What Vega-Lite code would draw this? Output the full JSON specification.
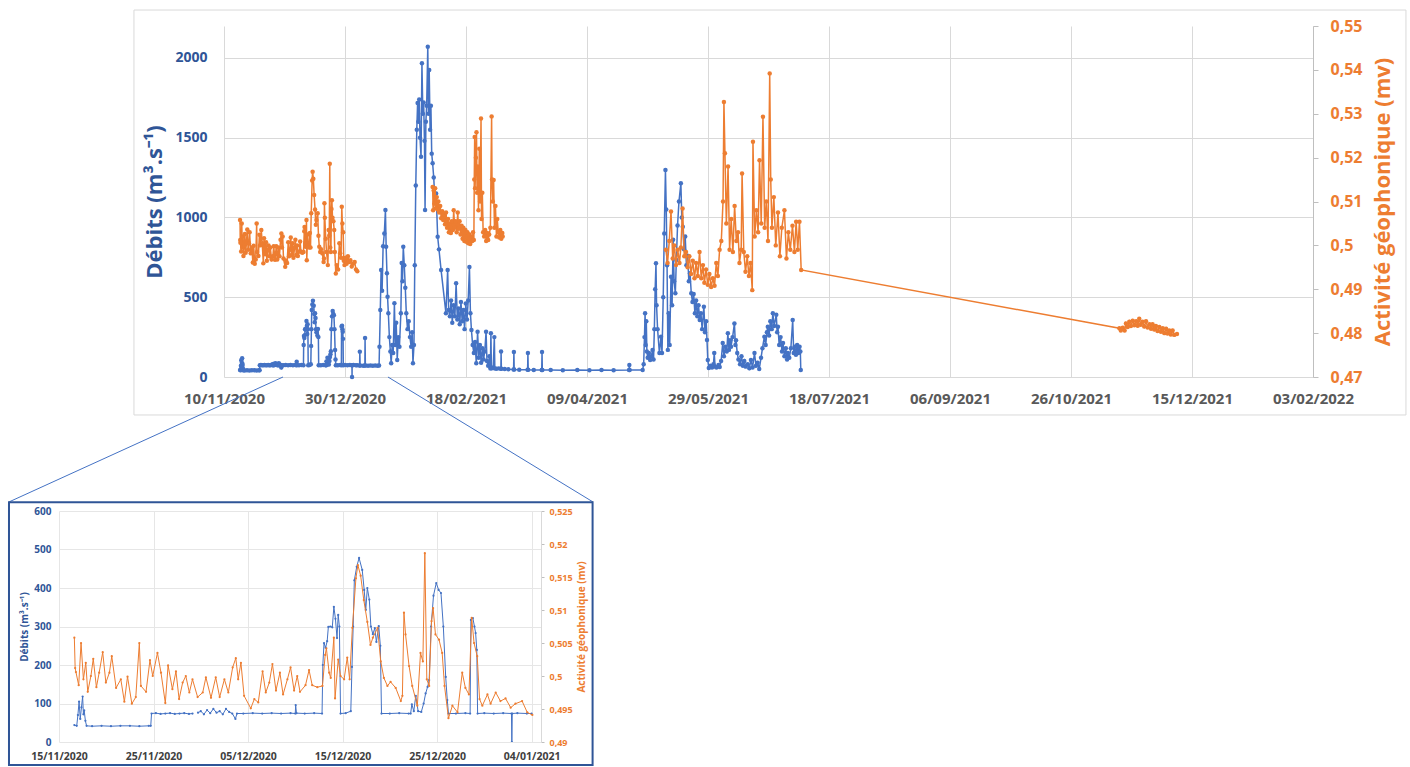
{
  "$schema": "https://vega.github.io/schema/vega-lite/v6.json",
  "background": "white",
  "padding": {"left": 7, "top": 9, "right": 5, "bottom": 0},
  "spacing": 485,
  "bounds": "flush",
  "config": {
    "view": {"stroke": null},
    "axis": {"labelFont": "Open Sans", "titleFont": "Open Sans"},
    "locale": {"number": {"decimal": ",", "thousands": "\u00a0", "grouping": [3], "currency": ["", " €"]}}
  },
  "datasets": {
    "flow": [
      {"t":"2020-11-16T15:00","q":44,"s":1},{"t":"2020-11-16T21:00","q":42,"s":1},{"t":"2020-11-17T00:00","q":70,"s":1},{"t":"2020-11-17T03:00","q":105,"s":1},{"t":"2020-11-17T06:00","q":60,"s":1},{"t":"2020-11-17T09:00","q":90,"s":1},{"t":"2020-11-17T12:00","q":118,"s":1},{"t":"2020-11-17T14:00","q":72,"s":1},{"t":"2020-11-17T16:00","q":82,"s":1},{"t":"2020-11-17T19:00","q":55,"s":1},{"t":"2020-11-17T22:00","q":42,"s":1},
      {"t":"2020-11-18T12:00","q":41,"s":1},{"t":"2020-11-19T12:00","q":42,"s":1},{"t":"2020-11-20T12:00","q":41,"s":1},{"t":"2020-11-21T12:00","q":42,"s":1},{"t":"2020-11-22T12:00","q":42,"s":1},{"t":"2020-11-23T12:00","q":41,"s":1},{"t":"2020-11-24T12:00","q":42,"s":1},{"t":"2020-11-24T17:00","q":42,"s":1},{"t":"2020-11-24T19:00","q":74,"s":1},{"t":"2020-11-25T06:00","q":75,"s":1},{"t":"2020-11-25T18:00","q":73,"s":1},{"t":"2020-11-26T06:00","q":74,"s":1},{"t":"2020-11-26T18:00","q":75,"s":1},{"t":"2020-11-27T06:00","q":73,"s":1},{"t":"2020-11-27T18:00","q":74,"s":1},{"t":"2020-11-28T06:00","q":75,"s":1},{"t":"2020-11-28T18:00","q":73,"s":1},{"t":"2020-11-29T03:00","q":74,"s":1},
      {"t":"2020-11-29T17:00","q":76,"s":2},{"t":"2020-11-30T00:00","q":80,"s":2},{"t":"2020-11-30T08:00","q":72,"s":2},{"t":"2020-11-30T16:00","q":83,"s":2},{"t":"2020-12-01T00:00","q":75,"s":2},{"t":"2020-12-01T08:00","q":86,"s":2},{"t":"2020-12-01T16:00","q":76,"s":2},{"t":"2020-12-02T00:00","q":80,"s":2},{"t":"2020-12-02T08:00","q":72,"s":2},{"t":"2020-12-02T16:00","q":86,"s":2},{"t":"2020-12-03T00:00","q":78,"s":2},{"t":"2020-12-03T08:00","q":74,"s":2},{"t":"2020-12-03T16:00","q":60,"s":2},{"t":"2020-12-03T20:00","q":74,"s":2},
      {"t":"2020-12-04T12:00","q":74,"s":2},{"t":"2020-12-05T12:00","q":75,"s":2},{"t":"2020-12-06T12:00","q":74,"s":2},{"t":"2020-12-07T12:00","q":75,"s":2},{"t":"2020-12-08T12:00","q":74,"s":2},{"t":"2020-12-09T12:00","q":75,"s":2},{"t":"2020-12-10T00:00","q":74,"s":2},{"t":"2020-12-10T01:00","q":96,"s":2},{"t":"2020-12-10T03:00","q":75,"s":2},{"t":"2020-12-11T00:00","q":74,"s":2},{"t":"2020-12-12T00:00","q":75,"s":2},{"t":"2020-12-12T20:00","q":74,"s":2},
      {"t":"2020-12-12T22:00","q":200,"s":2},{"t":"2020-12-13T01:00","q":257,"s":2},{"t":"2020-12-13T05:00","q":245,"s":2},{"t":"2020-12-13T09:00","q":262,"s":2},{"t":"2020-12-13T12:00","q":299,"s":2},{"t":"2020-12-13T17:00","q":300,"s":2},{"t":"2020-12-13T22:00","q":298,"s":2},{"t":"2020-12-14T02:00","q":351,"s":2},{"t":"2020-12-14T06:00","q":320,"s":2},{"t":"2020-12-14T10:00","q":270,"s":2},{"t":"2020-12-14T13:00","q":330,"s":2},{"t":"2020-12-14T16:00","q":300,"s":2},{"t":"2020-12-14T19:00","q":74,"s":2},{"t":"2020-12-15T08:00","q":75,"s":2},{"t":"2020-12-15T21:00","q":80,"s":2},
      {"t":"2020-12-16T00:00","q":195,"s":2},{"t":"2020-12-16T03:00","q":300,"s":2},{"t":"2020-12-16T06:00","q":420,"s":2},{"t":"2020-12-16T12:00","q":455,"s":2},{"t":"2020-12-16T18:00","q":478,"s":2},{"t":"2020-12-17T02:00","q":447,"s":2},{"t":"2020-12-17T07:00","q":395,"s":2},{"t":"2020-12-17T11:00","q":343,"s":2},{"t":"2020-12-17T15:00","q":400,"s":2},{"t":"2020-12-17T20:00","q":370,"s":2},{"t":"2020-12-18T00:00","q":300,"s":2},{"t":"2020-12-18T05:00","q":280,"s":2},{"t":"2020-12-18T10:00","q":296,"s":2},{"t":"2020-12-18T14:00","q":260,"s":2},{"t":"2020-12-18T20:00","q":301,"s":2},{"t":"2020-12-19T00:00","q":250,"s":2},{"t":"2020-12-19T03:00","q":74,"s":2},
      {"t":"2020-12-20T00:00","q":74,"s":2},{"t":"2020-12-21T00:00","q":75,"s":2},{"t":"2020-12-22T00:00","q":74,"s":2},{"t":"2020-12-22T05:00","q":74,"s":2},{"t":"2020-12-22T08:00","q":98,"s":2},{"t":"2020-12-22T13:00","q":80,"s":2},{"t":"2020-12-22T18:00","q":120,"s":2},{"t":"2020-12-23T00:00","q":80,"s":2},{"t":"2020-12-23T08:00","q":78,"s":2},{"t":"2020-12-23T14:00","q":100,"s":2},{"t":"2020-12-23T19:00","q":126,"s":2},{"t":"2020-12-24T00:00","q":143,"s":2},{"t":"2020-12-24T04:00","q":161,"s":2},{"t":"2020-12-24T09:00","q":300,"s":2},{"t":"2020-12-24T15:00","q":380,"s":2},{"t":"2020-12-24T22:00","q":413,"s":2},{"t":"2020-12-25T04:00","q":395,"s":2},{"t":"2020-12-25T10:00","q":387,"s":2},{"t":"2020-12-25T16:00","q":300,"s":2},{"t":"2020-12-25T22:00","q":169,"s":2},{"t":"2020-12-26T02:00","q":109,"s":2},{"t":"2020-12-26T05:00","q":74,"s":2},
      {"t":"2020-12-27T00:00","q":74,"s":2},{"t":"2020-12-28T00:00","q":75,"s":2},{"t":"2020-12-28T12:00","q":74,"s":2},{"t":"2020-12-28T14:00","q":317,"s":2},{"t":"2020-12-28T19:00","q":322,"s":2},{"t":"2020-12-28T23:00","q":300,"s":2},{"t":"2020-12-29T02:00","q":283,"s":2},{"t":"2020-12-29T05:00","q":239,"s":2},{"t":"2020-12-29T07:00","q":74,"s":2},{"t":"2020-12-30T00:00","q":75,"s":2},{"t":"2020-12-31T00:00","q":74,"s":2},{"t":"2021-01-01T00:00","q":75,"s":2},{"t":"2021-01-01T21:00","q":74,"s":2},{"t":"2021-01-01T22:00","q":0,"s":2},{"t":"2021-01-01T23:00","q":74,"s":2},{"t":"2021-01-02T12:00","q":75,"s":2},{"t":"2021-01-03T12:00","q":74,"s":2},{"t":"2021-01-04T00:00","q":74,"s":2},
      {"t":"2021-01-05T01:00","q":72,"s":2},{"t":"2021-01-05T03:00","q":159,"s":2},{"t":"2021-01-05T06:00","q":72,"s":2},{"t":"2021-01-06T12:00","q":70,"s":2},{"t":"2021-01-07T05:00","q":72,"s":2},{"t":"2021-01-07T07:00","q":244,"s":2},{"t":"2021-01-07T10:00","q":72,"s":2},{"t":"2021-01-08T12:00","q":70,"s":2},{"t":"2021-01-09T12:00","q":72,"s":2},{"t":"2021-01-10T12:00","q":70,"s":2},{"t":"2021-01-11T12:00","q":72,"s":2},{"t":"2021-01-12T12:00","q":70,"s":2},{"t":"2021-01-13T02:00","q":72,"s":2},
      {"t":"2021-01-13T06:00","q":190,"s":2},{"t":"2021-01-13T14:00","q":420,"s":2},{"t":"2021-01-13T22:00","q":670,"s":2},{"t":"2021-01-14T08:00","q":540,"s":2},{"t":"2021-01-14T18:00","q":820,"s":2},{"t":"2021-01-15T06:00","q":900,"s":2},{"t":"2021-01-15T17:00","q":1047,"s":2},{"t":"2021-01-16T00:00","q":817,"s":2},{"t":"2021-01-16T08:00","q":650,"s":2},{"t":"2021-01-16T14:00","q":503,"s":2},{"t":"2021-01-16T22:00","q":400,"s":2},{"t":"2021-01-17T08:00","q":250,"s":2},{"t":"2021-01-17T18:00","q":160,"s":2},{"t":"2021-01-18T02:00","q":86,"s":2},{"t":"2021-01-18T12:00","q":200,"s":2},{"t":"2021-01-18T22:00","q":150,"s":2},{"t":"2021-01-19T10:00","q":463,"s":2},{"t":"2021-01-19T18:00","q":200,"s":2},{"t":"2021-01-20T04:00","q":340,"s":2},{"t":"2021-01-20T14:00","q":106,"s":2},{"t":"2021-01-21T00:00","q":250,"s":2},{"t":"2021-01-21T12:00","q":190,"s":2},
      {"t":"2021-01-22T02:00","q":400,"s":2},{"t":"2021-01-22T10:00","q":714,"s":2},{"t":"2021-01-22T18:00","q":600,"s":2},{"t":"2021-01-23T02:00","q":817,"s":2},{"t":"2021-01-23T12:00","q":700,"s":2},{"t":"2021-01-23T22:00","q":560,"s":2},{"t":"2021-01-24T08:00","q":400,"s":2},{"t":"2021-01-24T20:00","q":300,"s":2},{"t":"2021-01-25T08:00","q":350,"s":2},{"t":"2021-01-25T20:00","q":250,"s":2},{"t":"2021-01-26T08:00","q":190,"s":2},{"t":"2021-01-26T18:00","q":280,"s":2},{"t":"2021-01-27T02:00","q":86,"s":2},{"t":"2021-01-27T12:00","q":200,"s":2},{"t":"2021-01-27T20:00","q":700,"s":2},
      {"t":"2021-01-28T06:00","q":1200,"s":2},{"t":"2021-01-28T16:00","q":1550,"s":2},{"t":"2021-01-29T00:00","q":1717,"s":2},{"t":"2021-01-29T08:00","q":1600,"s":2},{"t":"2021-01-29T16:00","q":1740,"s":2},{"t":"2021-01-30T00:00","q":1500,"s":2},{"t":"2021-01-30T10:00","q":1380,"s":2},{"t":"2021-01-30T19:00","q":1966,"s":2},{"t":"2021-01-31T04:00","q":1650,"s":2},{"t":"2021-01-31T12:00","q":1720,"s":2},{"t":"2021-01-31T20:00","q":1480,"s":2},{"t":"2021-02-01T02:00","q":1047,"s":2},{"t":"2021-02-01T10:00","q":1600,"s":2},{"t":"2021-02-01T18:00","q":1700,"s":2},{"t":"2021-02-02T05:00","q":2070,"s":2},{"t":"2021-02-02T12:00","q":1650,"s":2},{"t":"2021-02-02T19:00","q":1924,"s":2},{"t":"2021-02-03T04:00","q":1550,"s":2},{"t":"2021-02-03T12:00","q":1700,"s":2},{"t":"2021-02-03T20:00","q":1400,"s":2},{"t":"2021-02-04T05:00","q":1340,"s":2},{"t":"2021-02-04T16:00","q":1250,"s":2},{"t":"2021-02-05T04:00","q":1100,"s":2},{"t":"2021-02-05T16:00","q":1150,"s":2},{"t":"2021-02-06T07:00","q":879,"s":2},{"t":"2021-02-06T20:00","q":800,"s":2},{"t":"2021-02-07T17:00","q":670,"s":2},
      {"t":"2021-02-09T17:00","q":400,"s":2},{"t":"2021-02-10T10:00","q":670,"s":2},{"t":"2021-02-10T20:00","q":420,"s":2},{"t":"2021-02-11T08:00","q":380,"s":2},{"t":"2021-02-11T20:00","q":480,"s":2},{"t":"2021-02-12T08:00","q":340,"s":2},{"t":"2021-02-12T20:00","q":450,"s":2},{"t":"2021-02-13T10:00","q":380,"s":2},{"t":"2021-02-13T22:00","q":588,"s":2},{"t":"2021-02-14T10:00","q":360,"s":2},{"t":"2021-02-14T22:00","q":430,"s":2},{"t":"2021-02-15T10:00","q":330,"s":2},{"t":"2021-02-15T22:00","q":470,"s":2},{"t":"2021-02-16T10:00","q":350,"s":2},{"t":"2021-02-16T22:00","q":420,"s":2},{"t":"2021-02-17T10:00","q":300,"s":2},{"t":"2021-02-17T22:00","q":460,"s":2},{"t":"2021-02-18T10:00","q":360,"s":2},{"t":"2021-02-18T22:00","q":480,"s":2},{"t":"2021-02-19T10:00","q":690,"s":2},{"t":"2021-02-19T20:00","q":400,"s":2},
      {"t":"2021-02-20T06:00","q":294,"s":2},{"t":"2021-02-20T18:00","q":200,"s":2},{"t":"2021-02-21T06:00","q":150,"s":2},{"t":"2021-02-21T18:00","q":220,"s":2},{"t":"2021-02-22T06:00","q":86,"s":2},{"t":"2021-02-22T19:00","q":284,"s":2},{"t":"2021-02-23T06:00","q":120,"s":2},{"t":"2021-02-23T18:00","q":200,"s":2},{"t":"2021-02-24T06:00","q":90,"s":2},{"t":"2021-02-24T18:00","q":180,"s":2},{"t":"2021-02-25T06:00","q":110,"s":2},{"t":"2021-02-25T18:00","q":160,"s":2},{"t":"2021-02-26T07:00","q":284,"s":2},{"t":"2021-02-26T16:00","q":100,"s":2},{"t":"2021-02-27T04:00","q":70,"s":2},{"t":"2021-02-27T16:00","q":130,"s":2},{"t":"2021-02-28T02:00","q":54,"s":2},{"t":"2021-02-28T07:00","q":275,"s":2},{"t":"2021-02-28T12:00","q":54,"s":2},{"t":"2021-03-01T06:00","q":60,"s":2},{"t":"2021-03-01T17:00","q":250,"s":2},{"t":"2021-03-01T22:00","q":54,"s":2},
      {"t":"2021-03-02T12:00","q":52,"s":2},{"t":"2021-03-03T12:00","q":54,"s":2},{"t":"2021-03-04T10:00","q":52,"s":2},{"t":"2021-03-04T12:00","q":160,"s":2},{"t":"2021-03-04T15:00","q":52,"s":2},{"t":"2021-03-06T00:00","q":50,"s":2},{"t":"2021-03-07T12:00","q":48,"s":2},{"t":"2021-03-09T16:00","q":47,"s":2},{"t":"2021-03-09T19:00","q":157,"s":2},{"t":"2021-03-09T22:00","q":47,"s":2},{"t":"2021-03-12T00:00","q":46,"s":2},{"t":"2021-03-15T11:00","q":45,"s":2},{"t":"2021-03-15T14:00","q":150,"s":2},{"t":"2021-03-15T17:00","q":45,"s":2},{"t":"2021-03-18T00:00","q":44,"s":2},{"t":"2021-03-21T07:00","q":44,"s":2},{"t":"2021-03-21T10:00","q":157,"s":2},{"t":"2021-03-21T13:00","q":44,"s":2},{"t":"2021-03-25T00:00","q":44,"s":2},{"t":"2021-03-30T00:00","q":43,"s":2},{"t":"2021-04-05T00:00","q":44,"s":2},{"t":"2021-04-10T00:00","q":43,"s":2},{"t":"2021-04-15T00:00","q":44,"s":2},{"t":"2021-04-20T00:00","q":43,"s":2},{"t":"2021-04-26T09:00","q":44,"s":2},{"t":"2021-04-26T12:00","q":75,"s":2},{"t":"2021-04-26T15:00","q":44,"s":2},{"t":"2021-05-02T00:00","q":44,"s":2},
      {"t":"2021-05-02T10:00","q":80,"s":2},{"t":"2021-05-02T18:00","q":250,"s":2},{"t":"2021-05-03T00:00","q":400,"s":2},{"t":"2021-05-03T06:00","q":200,"s":2},{"t":"2021-05-03T12:00","q":350,"s":2},{"t":"2021-05-03T18:00","q":160,"s":2},{"t":"2021-05-04T02:00","q":120,"s":2},{"t":"2021-05-04T14:00","q":150,"s":2},{"t":"2021-05-05T02:00","q":106,"s":2},{"t":"2021-05-05T14:00","q":130,"s":2},{"t":"2021-05-06T02:00","q":170,"s":2},{"t":"2021-05-06T12:00","q":110,"s":2},{"t":"2021-05-06T20:00","q":300,"s":2},{"t":"2021-05-07T04:00","q":550,"s":2},{"t":"2021-05-07T12:00","q":713,"s":2},{"t":"2021-05-07T18:00","q":450,"s":2},{"t":"2021-05-08T04:00","q":300,"s":2},{"t":"2021-05-08T22:00","q":150,"s":2},{"t":"2021-05-09T14:00","q":253,"s":2},{"t":"2021-05-10T00:00","q":150,"s":2},{"t":"2021-05-10T12:00","q":500,"s":2},{"t":"2021-05-10T22:00","q":900,"s":2},{"t":"2021-05-11T10:00","q":1297,"s":2},{"t":"2021-05-11T18:00","q":1050,"s":2},{"t":"2021-05-12T02:00","q":700,"s":2},{"t":"2021-05-12T10:00","q":170,"s":2},{"t":"2021-05-12T18:00","q":400,"s":2},{"t":"2021-05-13T04:00","q":200,"s":2},{"t":"2021-05-13T17:00","q":629,"s":2},{"t":"2021-05-14T04:00","q":450,"s":2},{"t":"2021-05-14T14:00","q":860,"s":2},{"t":"2021-05-15T00:00","q":600,"s":2},{"t":"2021-05-15T12:00","q":525,"s":2},{"t":"2021-05-15T22:00","q":733,"s":2},{"t":"2021-05-16T10:00","q":950,"s":2},{"t":"2021-05-17T00:00","q":1100,"s":2},{"t":"2021-05-17T19:00","q":1214,"s":2},{"t":"2021-05-18T04:00","q":1000,"s":2},{"t":"2021-05-18T14:00","q":942,"s":2},
      {"t":"2021-05-19T02:00","q":800,"s":2},{"t":"2021-05-19T14:00","q":880,"s":2},{"t":"2021-05-20T02:00","q":700,"s":2},{"t":"2021-05-20T14:00","q":760,"s":2},{"t":"2021-05-21T02:00","q":600,"s":2},{"t":"2021-05-21T14:00","q":650,"s":2},{"t":"2021-05-22T02:00","q":525,"s":2},{"t":"2021-05-22T14:00","q":470,"s":2},{"t":"2021-05-23T02:00","q":520,"s":2},{"t":"2021-05-23T14:00","q":400,"s":2},{"t":"2021-05-24T02:00","q":480,"s":2},{"t":"2021-05-24T14:00","q":380,"s":2},{"t":"2021-05-25T02:00","q":450,"s":2},{"t":"2021-05-25T14:00","q":357,"s":2},{"t":"2021-05-26T02:00","q":400,"s":2},{"t":"2021-05-26T14:00","q":300,"s":2},{"t":"2021-05-27T07:00","q":441,"s":2},{"t":"2021-05-27T18:00","q":280,"s":2},{"t":"2021-05-28T06:00","q":350,"s":2},{"t":"2021-05-28T14:00","q":232,"s":2},{"t":"2021-05-28T22:00","q":106,"s":2},{"t":"2021-05-29T08:00","q":56,"s":2},{"t":"2021-05-30T00:00","q":70,"s":2},{"t":"2021-05-30T16:00","q":60,"s":2},{"t":"2021-05-31T06:00","q":80,"s":2},{"t":"2021-05-31T14:00","q":150,"s":2},{"t":"2021-05-31T22:00","q":65,"s":2},
      {"t":"2021-06-01T12:00","q":60,"s":2},{"t":"2021-06-02T08:00","q":75,"s":2},{"t":"2021-06-02T20:00","q":62,"s":2},{"t":"2021-06-03T10:00","q":100,"s":2},{"t":"2021-06-04T02:00","q":213,"s":2},{"t":"2021-06-04T14:00","q":130,"s":2},{"t":"2021-06-05T04:00","q":190,"s":2},{"t":"2021-06-05T18:00","q":160,"s":2},{"t":"2021-06-06T05:00","q":275,"s":2},{"t":"2021-06-06T16:00","q":170,"s":2},{"t":"2021-06-07T02:00","q":230,"s":2},{"t":"2021-06-07T12:00","q":190,"s":2},{"t":"2021-06-08T04:00","q":250,"s":2},{"t":"2021-06-08T22:00","q":336,"s":2},{"t":"2021-06-09T08:00","q":200,"s":2},{"t":"2021-06-09T14:00","q":230,"s":2},{"t":"2021-06-10T02:00","q":150,"s":2},{"t":"2021-06-10T14:00","q":110,"s":2},{"t":"2021-06-11T06:00","q":80,"s":2},{"t":"2021-06-11T20:00","q":130,"s":2},{"t":"2021-06-12T10:00","q":70,"s":2},{"t":"2021-06-13T00:00","q":100,"s":2},{"t":"2021-06-13T14:00","q":65,"s":2},{"t":"2021-06-14T10:00","q":80,"s":2},{"t":"2021-06-15T02:00","q":55,"s":2},{"t":"2021-06-15T18:00","q":106,"s":2},{"t":"2021-06-16T10:00","q":60,"s":2},{"t":"2021-06-17T05:00","q":150,"s":2},{"t":"2021-06-17T20:00","q":70,"s":2},{"t":"2021-06-18T12:00","q":90,"s":2},{"t":"2021-06-19T04:00","q":50,"s":2},{"t":"2021-06-19T22:00","q":120,"s":2},
      {"t":"2021-06-20T12:00","q":180,"s":2},{"t":"2021-06-21T07:00","q":253,"s":2},{"t":"2021-06-21T20:00","q":200,"s":2},{"t":"2021-06-22T08:00","q":280,"s":2},{"t":"2021-06-22T17:00","q":315,"s":2},{"t":"2021-06-23T06:00","q":260,"s":2},{"t":"2021-06-23T18:00","q":350,"s":2},{"t":"2021-06-24T08:00","q":300,"s":2},{"t":"2021-06-24T19:00","q":400,"s":2},{"t":"2021-06-25T08:00","q":320,"s":2},{"t":"2021-06-26T05:00","q":390,"s":2},{"t":"2021-06-26T14:00","q":280,"s":2},{"t":"2021-06-26T22:00","q":315,"s":2},{"t":"2021-06-27T10:00","q":200,"s":2},{"t":"2021-06-28T00:00","q":250,"s":2},{"t":"2021-06-28T14:00","q":160,"s":2},{"t":"2021-06-29T00:00","q":213,"s":2},{"t":"2021-06-29T14:00","q":130,"s":2},{"t":"2021-06-30T04:00","q":180,"s":2},{"t":"2021-06-30T16:00","q":110,"s":2},{"t":"2021-07-01T00:00","q":150,"s":2},{"t":"2021-07-01T14:00","q":120,"s":2},{"t":"2021-07-02T06:00","q":180,"s":2},{"t":"2021-07-03T00:00","q":357,"s":2},{"t":"2021-07-03T10:00","q":150,"s":2},{"t":"2021-07-03T20:00","q":190,"s":2},{"t":"2021-07-04T08:00","q":140,"s":2},{"t":"2021-07-04T20:00","q":200,"s":2},{"t":"2021-07-05T08:00","q":150,"s":2},{"t":"2021-07-05T20:00","q":190,"s":2},{"t":"2021-07-06T04:00","q":160,"s":2},{"t":"2021-07-06T08:00","q":44,"s":2}
    ],
    "geo": [
      {"t":"2020-11-16T15:00","g":0.5058,"s":1},{"t":"2020-11-16T17:00","g":0.5012,"s":1},{"t":"2020-11-16T19:00","g":0.5006,"s":1},{"t":"2020-11-17T02:00","g":0.4986,"s":1},{"t":"2020-11-17T08:00","g":0.505,"s":1},{"t":"2020-11-17T14:00","g":0.4995,"s":1},{"t":"2020-11-17T20:00","g":0.502,"s":1},{"t":"2020-11-18T01:00","g":0.4976,"s":1},{"t":"2020-11-18T09:00","g":0.5,"s":1},{"t":"2020-11-18T15:00","g":0.5026,"s":1},{"t":"2020-11-18T23:00","g":0.4983,"s":1},{"t":"2020-11-19T06:00","g":0.5005,"s":1},{"t":"2020-11-19T15:00","g":0.5036,"s":1},{"t":"2020-11-19T23:00","g":0.499,"s":1},{"t":"2020-11-20T08:00","g":0.5005,"s":1},{"t":"2020-11-20T14:00","g":0.503,"s":1},{"t":"2020-11-21T01:00","g":0.4982,"s":1},{"t":"2020-11-21T13:00","g":0.4995,"s":1},{"t":"2020-11-21T22:00","g":0.4961,"s":1},{"t":"2020-11-22T06:00","g":0.4999,"s":1},{"t":"2020-11-22T17:00","g":0.4958,"s":1},{"t":"2020-11-23T03:00","g":0.4968,"s":1},{"t":"2020-11-23T12:00","g":0.505,"s":1},{"t":"2020-11-23T16:00","g":0.4985,"s":1},{"t":"2020-11-24T05:00","g":0.4976,"s":1},{"t":"2020-11-24T15:00","g":0.5024,"s":1},{"t":"2020-11-24T22:00","g":0.5,"s":1},{"t":"2020-11-25T10:00","g":0.5035,"s":1},{"t":"2020-11-25T19:00","g":0.5005,"s":1},{"t":"2020-11-26T06:00","g":0.4959,"s":1},{"t":"2020-11-26T13:00","g":0.5016,"s":1},{"t":"2020-11-27T00:00","g":0.498,"s":1},{"t":"2020-11-27T09:00","g":0.5007,"s":1},{"t":"2020-11-27T17:00","g":0.4965,"s":1},{"t":"2020-11-28T02:00","g":0.499,"s":1},{"t":"2020-11-28T10:00","g":0.5,"s":1},{"t":"2020-11-28T19:00","g":0.4975,"s":1},{"t":"2020-11-29T03:00","g":0.4995,"s":1},{"t":"2020-11-29T16:00","g":0.4968,"s":1},{"t":"2020-11-30T05:00","g":0.4975,"s":1},{"t":"2020-11-30T13:00","g":0.4998,"s":1},
      {"t":"2020-12-01T02:00","g":0.4967,"s":1},{"t":"2020-12-01T14:00","g":0.4998,"s":1},{"t":"2020-12-02T00:00","g":0.4968,"s":1},{"t":"2020-12-02T12:00","g":0.4995,"s":1},{"t":"2020-12-02T22:00","g":0.4975,"s":1},{"t":"2020-12-03T09:00","g":0.5013,"s":1},{"t":"2020-12-03T17:00","g":0.5027,"s":1},{"t":"2020-12-03T23:00","g":0.4995,"s":1},{"t":"2020-12-04T06:00","g":0.502,"s":1},{"t":"2020-12-04T14:00","g":0.497,"s":1},{"t":"2020-12-05T07:00","g":0.4951,"s":1},{"t":"2020-12-05T16:00","g":0.4965,"s":1},{"t":"2020-12-06T02:00","g":0.496,"s":1},{"t":"2020-12-06T13:00","g":0.5007,"s":1},{"t":"2020-12-06T21:00","g":0.4975,"s":1},{"t":"2020-12-07T06:00","g":0.499,"s":1},{"t":"2020-12-07T14:00","g":0.5018,"s":1},{"t":"2020-12-07T23:00","g":0.4978,"s":1},{"t":"2020-12-08T09:00","g":0.5005,"s":1},{"t":"2020-12-08T17:00","g":0.4972,"s":1},{"t":"2020-12-09T04:00","g":0.4995,"s":1},{"t":"2020-12-09T12:00","g":0.5013,"s":1},{"t":"2020-12-09T21:00","g":0.4978,"s":1},{"t":"2020-12-10T05:00","g":0.5,"s":1},{"t":"2020-12-10T12:00","g":0.4976,"s":1},{"t":"2020-12-11T02:00","g":0.4986,"s":1},{"t":"2020-12-11T11:00","g":0.5009,"s":1},{"t":"2020-12-11T19:00","g":0.4986,"s":1},{"t":"2020-12-12T08:00","g":0.4983,"s":1},{"t":"2020-12-12T21:00","g":0.4985,"s":1},{"t":"2020-12-13T04:00","g":0.5032,"s":1},{"t":"2020-12-13T07:00","g":0.5042,"s":1},{"t":"2020-12-13T14:00","g":0.5005,"s":1},{"t":"2020-12-13T18:00","g":0.4997,"s":1},{"t":"2020-12-14T02:00","g":0.5058,"s":1},{"t":"2020-12-14T05:00","g":0.4966,"s":1},{"t":"2020-12-14T13:00","g":0.5025,"s":1},{"t":"2020-12-14T19:00","g":0.5,"s":1},{"t":"2020-12-15T04:00","g":0.4995,"s":1},{"t":"2020-12-15T12:00","g":0.5028,"s":1},{"t":"2020-12-15T18:00","g":0.4995,"s":1},
      {"t":"2020-12-16T01:00","g":0.5073,"s":1},{"t":"2020-12-16T10:00","g":0.5148,"s":1},{"t":"2020-12-16T15:00","g":0.5168,"s":1},{"t":"2020-12-16T22:00","g":0.5152,"s":1},{"t":"2020-12-17T06:00","g":0.5115,"s":1},{"t":"2020-12-17T15:00","g":0.5082,"s":1},{"t":"2020-12-17T23:00","g":0.5047,"s":1},{"t":"2020-12-18T05:00","g":0.5058,"s":1},{"t":"2020-12-18T17:00","g":0.5073,"s":1},{"t":"2020-12-19T01:00","g":0.5022,"s":1},{"t":"2020-12-19T09:00","g":0.4997,"s":1},{"t":"2020-12-19T18:00","g":0.4985,"s":1},{"t":"2020-12-20T02:00","g":0.4991,"s":1},{"t":"2020-12-20T15:00","g":0.4982,"s":1},{"t":"2020-12-21T04:00","g":0.4962,"s":1},{"t":"2020-12-21T08:00","g":0.497,"s":1},{"t":"2020-12-21T12:00","g":0.5096,"s":1},{"t":"2020-12-21T16:00","g":0.5063,"s":1},{"t":"2020-12-22T01:00","g":0.5015,"s":1},{"t":"2020-12-22T09:00","g":0.4985,"s":1},{"t":"2020-12-22T22:00","g":0.4955,"s":1},{"t":"2020-12-23T06:00","g":0.5035,"s":1},{"t":"2020-12-23T12:00","g":0.5022,"s":1},{"t":"2020-12-23T17:00","g":0.5186,"s":1},{"t":"2020-12-23T22:00","g":0.4995,"s":1},{"t":"2020-12-24T04:00","g":0.4985,"s":1},{"t":"2020-12-24T10:00","g":0.5083,"s":1},{"t":"2020-12-24T14:00","g":0.5103,"s":1},{"t":"2020-12-24T20:00","g":0.5063,"s":1},{"t":"2020-12-25T05:00","g":0.5055,"s":1},{"t":"2020-12-25T13:00","g":0.5035,"s":1},{"t":"2020-12-25T19:00","g":0.4985,"s":1},{"t":"2020-12-26T05:00","g":0.4936,"s":1},{"t":"2020-12-26T15:00","g":0.4955,"s":1},{"t":"2020-12-27T04:00","g":0.4945,"s":1},{"t":"2020-12-27T16:00","g":0.5005,"s":1},{"t":"2020-12-28T00:00","g":0.4982,"s":1},{"t":"2020-12-28T09:00","g":0.4972,"s":1},{"t":"2020-12-28T16:00","g":0.5088,"s":1},{"t":"2020-12-28T22:00","g":0.505,"s":1},{"t":"2020-12-29T06:00","g":0.503,"s":1},{"t":"2020-12-29T12:00","g":0.4965,"s":1},{"t":"2020-12-29T19:00","g":0.4955,"s":1},{"t":"2020-12-30T08:00","g":0.4972,"s":1},{"t":"2020-12-30T16:00","g":0.4958,"s":1},{"t":"2020-12-31T05:00","g":0.4975,"s":1},{"t":"2020-12-31T17:00","g":0.4962,"s":1},{"t":"2021-01-01T06:00","g":0.4966,"s":1},{"t":"2021-01-01T19:00","g":0.4952,"s":1},{"t":"2021-01-02T07:00","g":0.4958,"s":1},{"t":"2021-01-03T00:00","g":0.4962,"s":1},{"t":"2021-01-03T13:00","g":0.4945,"s":1},{"t":"2021-01-04T02:00","g":0.4941,"s":1},
      {"t":"2021-02-04T05:00","g":0.5133,"s":2},{"t":"2021-02-04T10:00","g":0.508,"s":2},{"t":"2021-02-04T16:00","g":0.5125,"s":2},{"t":"2021-02-04T22:00","g":0.5095,"s":2},{"t":"2021-02-05T06:00","g":0.513,"s":2},{"t":"2021-02-05T14:00","g":0.5085,"s":2},{"t":"2021-02-05T22:00","g":0.511,"s":2},{"t":"2021-02-06T06:00","g":0.5082,"s":2},{"t":"2021-02-06T14:00","g":0.51,"s":2},{"t":"2021-02-06T22:00","g":0.5075,"s":2},{"t":"2021-02-07T08:00","g":0.509,"s":2},{"t":"2021-02-07T18:00","g":0.5062,"s":2},{"t":"2021-02-08T04:00","g":0.5078,"s":2},{"t":"2021-02-08T14:00","g":0.5058,"s":2},{"t":"2021-02-08T22:00","g":0.507,"s":2},{"t":"2021-02-09T08:00","g":0.5048,"s":2},{"t":"2021-02-09T18:00","g":0.5075,"s":2},{"t":"2021-02-10T04:00","g":0.504,"s":2},{"t":"2021-02-10T14:00","g":0.506,"s":2},{"t":"2021-02-10T22:00","g":0.503,"s":2},{"t":"2021-02-11T08:00","g":0.505,"s":2},{"t":"2021-02-11T18:00","g":0.5028,"s":2},{"t":"2021-02-12T04:00","g":0.5055,"s":2},{"t":"2021-02-12T14:00","g":0.5035,"s":2},{"t":"2021-02-12T22:00","g":0.508,"s":2},{"t":"2021-02-13T08:00","g":0.504,"s":2},{"t":"2021-02-13T18:00","g":0.5055,"s":2},{"t":"2021-02-14T04:00","g":0.503,"s":2},{"t":"2021-02-14T14:00","g":0.5075,"s":2},{"t":"2021-02-14T22:00","g":0.5038,"s":2},{"t":"2021-02-15T08:00","g":0.5055,"s":2},{"t":"2021-02-15T18:00","g":0.5025,"s":2},{"t":"2021-02-16T04:00","g":0.5045,"s":2},{"t":"2021-02-16T14:00","g":0.5015,"s":2},{"t":"2021-02-16T22:00","g":0.504,"s":2},{"t":"2021-02-17T08:00","g":0.501,"s":2},{"t":"2021-02-17T18:00","g":0.5035,"s":2},{"t":"2021-02-18T04:00","g":0.5008,"s":2},{"t":"2021-02-18T14:00","g":0.503,"s":2},{"t":"2021-02-18T22:00","g":0.5005,"s":2},{"t":"2021-02-19T08:00","g":0.5025,"s":2},{"t":"2021-02-19T18:00","g":0.5003,"s":2},{"t":"2021-02-20T04:00","g":0.502,"s":2},{"t":"2021-02-20T14:00","g":0.501,"s":2},{"t":"2021-02-20T22:00","g":0.503,"s":2},
      {"t":"2021-02-21T06:00","g":0.5012,"s":2},{"t":"2021-02-21T10:00","g":0.515,"s":2},{"t":"2021-02-21T14:00","g":0.5247,"s":2},{"t":"2021-02-21T18:00","g":0.513,"s":2},{"t":"2021-02-22T02:00","g":0.52,"s":2},{"t":"2021-02-22T08:00","g":0.5258,"s":2},{"t":"2021-02-22T14:00","g":0.512,"s":2},{"t":"2021-02-22T20:00","g":0.518,"s":2},{"t":"2021-02-23T04:00","g":0.508,"s":2},{"t":"2021-02-23T12:00","g":0.522,"s":2},{"t":"2021-02-23T20:00","g":0.51,"s":2},{"t":"2021-02-24T05:00","g":0.5289,"s":2},{"t":"2021-02-24T10:00","g":0.506,"s":2},{"t":"2021-02-24T18:00","g":0.512,"s":2},{"t":"2021-02-25T02:00","g":0.503,"s":2},{"t":"2021-02-25T12:00","g":0.502,"s":2},{"t":"2021-02-25T22:00","g":0.5035,"s":2},{"t":"2021-02-26T08:00","g":0.501,"s":2},{"t":"2021-02-26T18:00","g":0.5028,"s":2},{"t":"2021-02-27T04:00","g":0.5012,"s":2},{"t":"2021-02-27T14:00","g":0.5025,"s":2},{"t":"2021-02-28T02:00","g":0.504,"s":2},{"t":"2021-02-28T14:00","g":0.5294,"s":2},{"t":"2021-02-28T18:00","g":0.515,"s":2},{"t":"2021-03-01T02:00","g":0.51,"s":2},{"t":"2021-03-01T10:00","g":0.5149,"s":2},{"t":"2021-03-01T18:00","g":0.504,"s":2},{"t":"2021-03-02T04:00","g":0.509,"s":2},{"t":"2021-03-02T14:00","g":0.502,"s":2},{"t":"2021-03-02T22:00","g":0.506,"s":2},{"t":"2021-03-03T08:00","g":0.503,"s":2},{"t":"2021-03-03T18:00","g":0.5018,"s":2},{"t":"2021-03-04T04:00","g":0.5035,"s":2},{"t":"2021-03-04T14:00","g":0.5015,"s":2},{"t":"2021-03-05T00:00","g":0.5028,"s":2},{"t":"2021-03-05T04:00","g":0.502,"s":2},
      {"t":"2021-05-11T14:00","g":0.499,"s":3},{"t":"2021-05-12T07:00","g":0.496,"s":3},{"t":"2021-05-13T00:00","g":0.501,"s":3},{"t":"2021-05-13T17:00","g":0.5077,"s":3},{"t":"2021-05-14T10:00","g":0.497,"s":3},{"t":"2021-05-15T02:00","g":0.5,"s":3},{"t":"2021-05-15T19:00","g":0.4955,"s":3},{"t":"2021-05-16T12:00","g":0.499,"s":3},{"t":"2021-05-17T05:00","g":0.496,"s":3},{"t":"2021-05-17T19:00","g":0.4995,"s":3},{"t":"2021-05-18T12:00","g":0.5084,"s":3},{"t":"2021-05-19T05:00","g":0.4975,"s":3},{"t":"2021-05-19T22:00","g":0.4985,"s":3},{"t":"2021-05-20T14:00","g":0.495,"s":3},{"t":"2021-05-21T07:00","g":0.4975,"s":3},{"t":"2021-05-22T00:00","g":0.4935,"s":3},{"t":"2021-05-22T17:00","g":0.4965,"s":3},{"t":"2021-05-23T10:00","g":0.4925,"s":3},{"t":"2021-05-24T02:00","g":0.496,"s":3},{"t":"2021-05-24T19:00","g":0.493,"s":3},{"t":"2021-05-25T12:00","g":0.4985,"s":3},{"t":"2021-05-26T05:00","g":0.4925,"s":3},{"t":"2021-05-26T22:00","g":0.4955,"s":3},{"t":"2021-05-27T12:00","g":0.4915,"s":3},{"t":"2021-05-28T05:00","g":0.4945,"s":3},{"t":"2021-05-28T22:00","g":0.491,"s":3},{"t":"2021-05-29T14:00","g":0.4935,"s":3},{"t":"2021-05-30T07:00","g":0.4905,"s":3},{"t":"2021-05-31T00:00","g":0.4925,"s":3},{"t":"2021-05-31T17:00","g":0.4908,"s":3},
      {"t":"2021-06-01T10:00","g":0.496,"s":3},{"t":"2021-06-02T02:00","g":0.493,"s":3},{"t":"2021-06-02T19:00","g":0.499,"s":3},{"t":"2021-06-03T12:00","g":0.501,"s":3},{"t":"2021-06-04T05:00","g":0.51,"s":3},{"t":"2021-06-04T14:00","g":0.5327,"s":3},{"t":"2021-06-05T00:00","g":0.521,"s":3},{"t":"2021-06-05T14:00","g":0.505,"s":3},{"t":"2021-06-06T07:00","g":0.518,"s":3},{"t":"2021-06-06T22:00","g":0.499,"s":3},{"t":"2021-06-07T14:00","g":0.506,"s":3},{"t":"2021-06-08T07:00","g":0.4985,"s":3},{"t":"2021-06-09T00:00","g":0.509,"s":3},{"t":"2021-06-09T17:00","g":0.501,"s":3},{"t":"2021-06-10T10:00","g":0.503,"s":3},{"t":"2021-06-11T00:00","g":0.496,"s":3},{"t":"2021-06-11T17:00","g":0.499,"s":3},{"t":"2021-06-12T02:00","g":0.5164,"s":3},{"t":"2021-06-12T19:00","g":0.4985,"s":3},{"t":"2021-06-13T12:00","g":0.494,"s":3},{"t":"2021-06-14T05:00","g":0.4975,"s":3},{"t":"2021-06-14T22:00","g":0.493,"s":3},{"t":"2021-06-15T14:00","g":0.496,"s":3},{"t":"2021-06-16T07:00","g":0.4898,"s":3},{"t":"2021-06-16T14:00","g":0.5236,"s":3},{"t":"2021-06-17T07:00","g":0.502,"s":3},{"t":"2021-06-18T00:00","g":0.508,"s":3},{"t":"2021-06-18T17:00","g":0.503,"s":3},{"t":"2021-06-19T07:00","g":0.5194,"s":3},{"t":"2021-06-20T00:00","g":0.505,"s":3},{"t":"2021-06-20T17:00","g":0.5293,"s":3},{"t":"2021-06-21T10:00","g":0.504,"s":3},{"t":"2021-06-22T02:00","g":0.51,"s":3},{"t":"2021-06-22T19:00","g":0.501,"s":3},{"t":"2021-06-23T12:00","g":0.5392,"s":3},{"t":"2021-06-23T22:00","g":0.515,"s":3},{"t":"2021-06-24T10:00","g":0.504,"s":3},{"t":"2021-06-25T05:00","g":0.511,"s":3},{"t":"2021-06-26T00:00","g":0.5,"s":3},{"t":"2021-06-26T22:00","g":0.5075,"s":3},{"t":"2021-06-27T17:00","g":0.4975,"s":3},{"t":"2021-06-28T12:00","g":0.504,"s":3},{"t":"2021-06-29T14:00","g":0.508,"s":3},{"t":"2021-06-30T10:00","g":0.497,"s":3},{"t":"2021-07-01T05:00","g":0.503,"s":3},{"t":"2021-07-02T00:00","g":0.499,"s":3},{"t":"2021-07-02T22:00","g":0.5045,"s":3},{"t":"2021-07-03T17:00","g":0.4985,"s":3},{"t":"2021-07-04T10:00","g":0.5054,"s":3},{"t":"2021-07-05T02:00","g":0.499,"s":3},{"t":"2021-07-05T19:00","g":0.5054,"s":3},{"t":"2021-07-06T12:00","g":0.4944,"s":3},
      {"t":"2021-11-15T00:00","g":0.4811,"s":3},{"t":"2021-11-15T14:00","g":0.4806,"s":3},{"t":"2021-11-16T10:00","g":0.4812,"s":3},{"t":"2021-11-17T04:00","g":0.4806,"s":3},{"t":"2021-11-17T17:00","g":0.4822,"s":3},{"t":"2021-11-18T10:00","g":0.4814,"s":3},{"t":"2021-11-19T02:00","g":0.4826,"s":3},{"t":"2021-11-19T18:00","g":0.4816,"s":3},{"t":"2021-11-20T12:00","g":0.4828,"s":3},{"t":"2021-11-21T04:00","g":0.4818,"s":3},{"t":"2021-11-21T22:00","g":0.4827,"s":3},{"t":"2021-11-22T14:00","g":0.4817,"s":3},{"t":"2021-11-23T05:00","g":0.4833,"s":3},{"t":"2021-11-23T20:00","g":0.4819,"s":3},{"t":"2021-11-24T14:00","g":0.4826,"s":3},{"t":"2021-11-25T06:00","g":0.4815,"s":3},{"t":"2021-11-26T00:00","g":0.4827,"s":3},{"t":"2021-11-26T16:00","g":0.4813,"s":3},{"t":"2021-11-27T10:00","g":0.482,"s":3},{"t":"2021-11-28T02:00","g":0.481,"s":3},{"t":"2021-11-28T17:00","g":0.482,"s":3},{"t":"2021-11-29T10:00","g":0.4808,"s":3},{"t":"2021-11-30T02:00","g":0.4816,"s":3},{"t":"2021-11-30T18:00","g":0.4805,"s":3},{"t":"2021-12-01T12:00","g":0.4814,"s":3},{"t":"2021-12-02T04:00","g":0.4803,"s":3},{"t":"2021-12-02T22:00","g":0.4811,"s":3},{"t":"2021-12-03T14:00","g":0.48,"s":3},{"t":"2021-12-04T07:00","g":0.481,"s":3},{"t":"2021-12-04T22:00","g":0.4799,"s":3},{"t":"2021-12-05T14:00","g":0.4806,"s":3},{"t":"2021-12-06T06:00","g":0.4797,"s":3},{"t":"2021-12-07T00:00","g":0.4806,"s":3},{"t":"2021-12-07T16:00","g":0.4796,"s":3},{"t":"2021-12-08T19:00","g":0.4798,"s":3}
    ]
  },
  "vconcat": [
    {
      "spacing": 0,
      "bounds": "flush",
      "hconcat": [
        {
          "width": 165,
          "height": 351,
          "data": {"values": []},
          "mark": {"type": "point", "opacity": 0},
          "encoding": {}
        },
        {
          "width": 1089,
          "height": 351,
          "layer": [
            {
              "layer": [
                {
                  "data": {"name": "flow"},
                  "mark": {"type": "line", "color": "#4472C4", "strokeWidth": 1.5, "point": {"filled": true, "size": 20, "color": "#4472C4"}},
                  "encoding": {
                    "x": {"field": "t", "type": "temporal", "title": null,
                      "scale": {"domain": [{"year": 2020, "month": 11, "date": 10}, {"year": 2022, "month": 2, "date": 3}]},
                      "axis": {"values": [{"year": 2020, "month": 11, "date": 10}, {"year": 2020, "month": 12, "date": 30}, {"year": 2021, "month": 2, "date": 18}, {"year": 2021, "month": 4, "date": 9}, {"year": 2021, "month": 5, "date": 29}, {"year": 2021, "month": 7, "date": 18}, {"year": 2021, "month": 9, "date": 6}, {"year": 2021, "month": 10, "date": 26}, {"year": 2021, "month": 12, "date": 15}, {"year": 2022, "month": 2, "date": 3}],
                        "format": "%d/%m/%Y", "labelFontSize": 15, "labelFontWeight": "bold", "labelColor": "#595959", "labelPadding": 14, "ticks": false, "domain": false, "grid": true, "gridColor": "#D9D9D9", "labelFlush": false, "labelOverlap": false}},
                    "y": {"field": "q", "type": "quantitative",
                      "scale": {"domain": [0, 2200], "nice": false, "zero": false},
                      "axis": {"values": [0, 500, 1000, 1500, 2000], "format": "d", "title": "Débits (m³.s⁻¹)", "titleFontSize": 22, "titleFontWeight": "bold", "titleColor": "#2F5597", "titlePadding": 8, "labelFontSize": 14, "labelFontWeight": "bold", "labelColor": "#2F5597", "labelPadding": 17, "labelOverlap": false, "ticks": false, "domain": false, "grid": true, "gridColor": "#D9D9D9"}},
                    "detail": {"field": "s", "type": "nominal"}
                  }
                },
                {
                  "data": {"values": [{}]},
                  "mark": {"type": "rect", "fill": "transparent", "stroke": "#D9D9D9", "strokeWidth": 1},
                  "encoding": {
                    "x": {"datum": {"year": 2020, "month": 10, "date": 3, "hours": 19}, "type": "temporal", "title": null, "scale": {"domain": [{"year": 2020, "month": 11, "date": 10}, {"year": 2022, "month": 2, "date": 3}]}},
                    "x2": {"datum": {"year": 2022, "month": 3, "date": 13, "hours": 10}},
                    "y": {"datum": 2300, "type": "quantitative", "scale": {"domain": [0, 2200], "nice": false, "zero": false}},
                    "y2": {"datum": -238}
                  }
                },
                {
                  "data": {"values": [{}]},
                  "mark": {"type": "rule", "color": "#4472C4", "strokeWidth": 1},
                  "encoding": {
                    "x": {"datum": {"year": 2020, "month": 12, "date": 4, "hours": 9}, "type": "temporal", "title": null, "scale": {"domain": [{"year": 2020, "month": 11, "date": 10}, {"year": 2022, "month": 2, "date": 3}]}},
                    "x2": {"datum": {"year": 2020, "month": 8, "date": 13, "hours": 4}},
                    "y": {"datum": 0, "type": "quantitative", "scale": {"domain": [0, 2200], "nice": false, "zero": false}},
                    "y2": {"datum": -783}
                  }
                },
                {
                  "data": {"values": [{}]},
                  "mark": {"type": "rule", "color": "#4472C4", "strokeWidth": 1},
                  "encoding": {
                    "x": {"datum": {"year": 2021, "month": 1, "date": 16, "hours": 18}, "type": "temporal", "title": null, "scale": {"domain": [{"year": 2020, "month": 11, "date": 10}, {"year": 2022, "month": 2, "date": 3}]}},
                    "x2": {"datum": {"year": 2021, "month": 4, "date": 11, "hours": 11}},
                    "y": {"datum": 0, "type": "quantitative", "scale": {"domain": [0, 2200], "nice": false, "zero": false}},
                    "y2": {"datum": -783}
                  }
                }
              ]
            },
            {
              "data": {"name": "geo"},
              "mark": {"type": "line", "color": "#ED7D31", "strokeWidth": 1.5, "point": {"filled": true, "size": 20, "color": "#ED7D31"}},
              "encoding": {
                "x": {"field": "t", "type": "temporal", "title": null, "scale": {"domain": [{"year": 2020, "month": 11, "date": 10}, {"year": 2022, "month": 2, "date": 3}]}},
                "y": {"field": "g", "type": "quantitative",
                  "scale": {"domain": [0.47, 0.55], "nice": false, "zero": false},
                  "axis": {"orient": "right", "values": [0.47, 0.48, 0.49, 0.5, 0.51, 0.52, 0.53, 0.54, 0.55], "format": ".2~f", "title": "Activité géophonique (mv)", "titleAngle": 270, "titleBaseline": "top", "titleFontSize": 22, "titleFontWeight": "bold", "titleColor": "#ED7D31", "titlePadding": 10, "labelFontSize": 16, "labelFontWeight": "bold", "labelColor": "#ED7D31", "labelPadding": 12, "labelOverlap": false, "ticks": true, "tickColor": "#BFBFBF", "tickSize": 5, "domain": true, "domainColor": "#BFBFBF", "grid": false}},
                "detail": {"field": "s", "type": "nominal"}
              }
            }
          ],
          "resolve": {"scale": {"y": "independent"}}
        }
      ]
    },
    {
      "width": 482,
      "height": 231,
      "layer": [
        {
          "data": {"name": "flow"},
          "transform": [{"filter": {"field": "t", "lte": {"year": 2021, "month": 1, "date": 4, "hours": 2}}}],
          "mark": {"type": "line", "color": "#4472C4", "strokeWidth": 1, "clip": true, "point": {"filled": true, "size": 5, "color": "#4472C4"}},
          "encoding": {
            "x": {"field": "t", "type": "temporal", "title": null,
              "scale": {"domain": [{"year": 2020, "month": 11, "date": 15}, {"year": 2021, "month": 1, "date": 5}]},
              "axis": {"values": [{"year": 2020, "month": 11, "date": 15}, {"year": 2020, "month": 11, "date": 25}, {"year": 2020, "month": 12, "date": 5}, {"year": 2020, "month": 12, "date": 15}, {"year": 2020, "month": 12, "date": 25}, {"year": 2021, "month": 1, "date": 4}],
                "format": "%d/%m/%Y", "labelFontSize": 10.5, "labelFontWeight": "bold", "labelColor": "#404040", "labelPadding": 9, "ticks": false, "domain": false, "grid": true, "gridColor": "#E6E6E6", "labelFlush": false, "labelOverlap": false}},
            "y": {"field": "q", "type": "quantitative",
              "scale": {"domain": [0, 600], "nice": false, "zero": false},
              "axis": {"values": [0, 100, 200, 300, 400, 500, 600], "tickCount": 7, "format": "d", "title": "Débits (m³.s⁻¹)", "titleFontSize": 10, "titleFontWeight": "bold", "titleColor": "#2F5597", "titlePadding": 4, "labelFontSize": 10, "labelFontWeight": "bold", "labelColor": "#2F5597", "labelPadding": 8, "labelOverlap": false, "ticks": false, "domain": false, "grid": true, "gridColor": "#E6E6E6"}},
            "detail": {"field": "s", "type": "nominal"}
          }
        },
        {
          "data": {"name": "geo"},
          "transform": [{"filter": {"field": "t", "lte": {"year": 2021, "month": 1, "date": 4, "hours": 2}}}],
          "mark": {"type": "line", "color": "#ED7D31", "strokeWidth": 1, "clip": true, "point": {"filled": true, "size": 5, "color": "#ED7D31"}},
          "encoding": {
            "x": {"field": "t", "type": "temporal", "title": null, "scale": {"domain": [{"year": 2020, "month": 11, "date": 15}, {"year": 2021, "month": 1, "date": 5}]}},
            "y": {"field": "g", "type": "quantitative",
              "scale": {"domain": [0.49, 0.525], "nice": false, "zero": false},
              "axis": {"orient": "right", "values": [0.49, 0.495, 0.5, 0.505, 0.51, 0.515, 0.52, 0.525], "format": ".3~f", "title": "Activité géophonique (mv)", "titleAngle": 270, "titleBaseline": "top", "titleFontSize": 10, "titleFontWeight": "bold", "titleColor": "#ED7D31", "titlePadding": 4, "labelFontSize": 9, "labelFontWeight": "bold", "labelColor": "#ED7D31", "labelPadding": 5, "labelOverlap": false, "ticks": true, "tickColor": "#BFBFBF", "tickSize": 3, "domain": true, "domainColor": "#D9D9D9", "grid": false}},
            "detail": {"field": "s", "type": "nominal"}
          }
        },
        {
          "data": {"values": [{}]},
          "mark": {"type": "rect", "fill": "transparent", "stroke": "#2F5597", "strokeWidth": 2},
          "encoding": {
            "x": {"datum": {"year": 2020, "month": 11, "date": 9, "hours": 17}, "type": "temporal", "title": null, "scale": {"domain": [{"year": 2020, "month": 11, "date": 15}, {"year": 2021, "month": 1, "date": 5}]}},
            "x2": {"datum": {"year": 2021, "month": 1, "date": 10, "hours": 11}},
            "y": {"datum": 623, "type": "quantitative", "scale": {"domain": [0, 600], "nice": false, "zero": false}, "axis": null},
            "y2": {"datum": -60}
          }
        }
      ],
      "resolve": {"scale": {"y": "independent"}}
    }
  ]
}
